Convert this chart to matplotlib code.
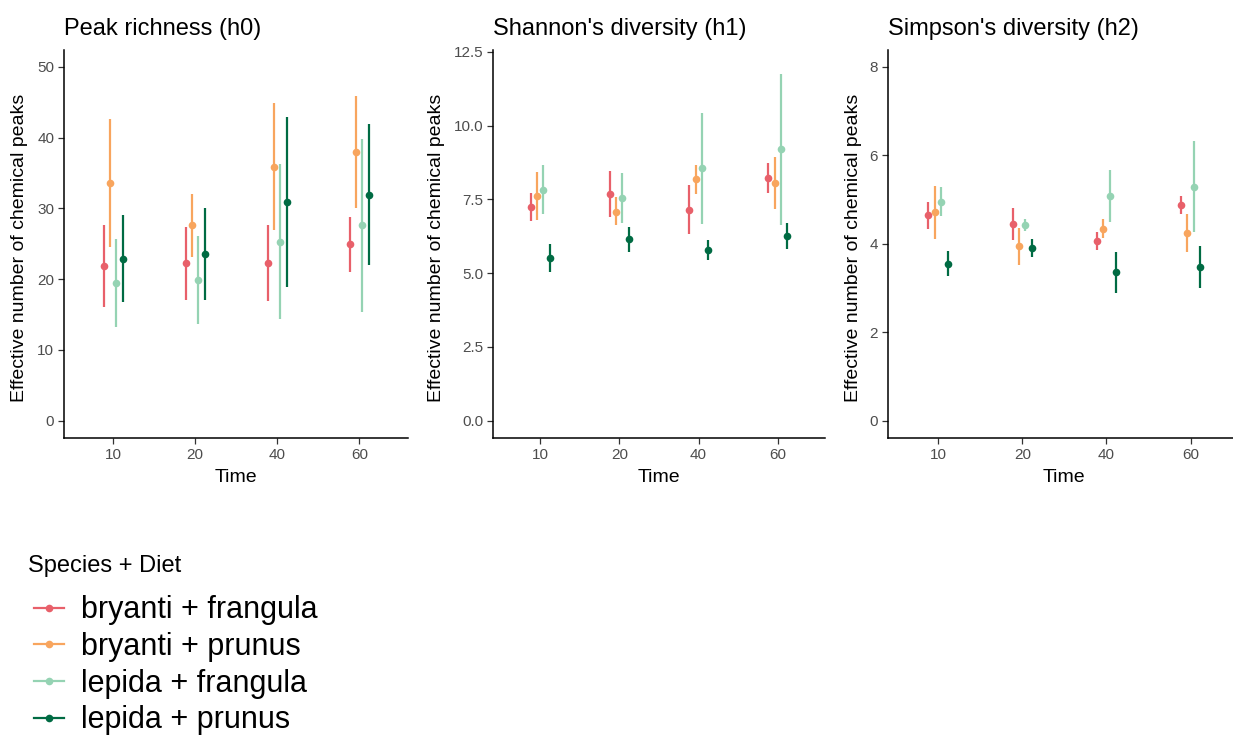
import numpy as np
import matplotlib.pyplot as plt
from matplotlib.lines import Line2D

plt.rcParams['font.family'] = ['Liberation Sans', 'DejaVu Sans']

times = ['10', '20', '40', '60']
groups = ['bryanti + frangula', 'bryanti + prunus', 'lepida + frangula', 'lepida + prunus']
colors = ['#E8606A', '#F8A55E', '#95D3B3', '#006B43']

# h0: peak richness, mean and interval per group (rows) x time (cols)
h0_mean = [[21.9, 22.3, 22.3, 25.0],
           [33.6, 27.6, 35.9, 38.0],
           [19.5, 19.9, 25.2, 27.6],
           [22.9, 23.6, 30.9, 31.9]]
h0_low = [[16.1, 17.1, 16.9, 21.0],
          [24.5, 23.1, 27.0, 30.1],
          [13.3, 13.7, 14.3, 15.3],
          [16.7, 17.1, 18.9, 22.0]]
h0_high = [[27.6, 27.3, 27.6, 28.8],
           [42.6, 32.0, 44.9, 45.8],
           [25.7, 26.1, 36.2, 39.8],
           [29.0, 30.0, 42.9, 41.9]]

# h1: Shannon's diversity
h1_mean = [[7.24, 7.69, 7.15, 8.23],
           [7.62, 7.08, 8.18, 8.04],
           [7.83, 7.55, 8.55, 9.19],
           [5.51, 6.14, 5.77, 6.25]]
h1_low = [[6.75, 6.90, 6.31, 7.71],
          [6.80, 6.62, 7.67, 7.16],
          [6.99, 6.70, 6.67, 6.63],
          [5.05, 5.73, 5.43, 5.81]]
h1_high = [[7.71, 8.47, 7.98, 8.73],
           [8.41, 7.57, 8.68, 8.92],
           [8.68, 8.40, 10.43, 11.75],
           [6.00, 6.55, 6.11, 6.69]]

# h2: Simpson's diversity
h2_mean = [[4.65, 4.45, 4.07, 4.87],
           [4.72, 3.94, 4.34, 4.24],
           [4.94, 4.42, 5.08, 5.29],
           [3.55, 3.90, 3.35, 3.47]]
h2_low = [[4.34, 4.08, 3.86, 4.67],
          [4.11, 3.51, 4.12, 3.81],
          [4.62, 4.29, 4.50, 4.26],
          [3.27, 3.71, 2.89, 3.00]]
h2_high = [[4.94, 4.81, 4.26, 5.08],
           [5.31, 4.36, 4.55, 4.67],
           [5.27, 4.55, 5.66, 6.31],
           [3.83, 4.10, 3.81, 3.95]]

W, H = 1233, 736
fig = plt.figure(figsize=(W / 100, H / 100), dpi=100)

def px_axes(x0, x1, y0, y1):
    return fig.add_axes([x0 / W, 1 - y1 / H, (x1 - x0) / W, (y1 - y0) / H])

panels = [
    dict(title='Peak richness (h0)', x=(64, 408.5), ylim=(-2.49, 52.36),
         yticks=[0, 10, 20, 30, 40, 50], fmt='{:.0f}', ylab_x=20,
         data=(h0_mean, h0_low, h0_high)),
    dict(title="Shannon's diversity (h1)", x=(493, 825), ylim=(-0.596, 12.56),
         yticks=[0, 2.5, 5, 7.5, 10, 12.5], fmt='{:.1f}', ylab_x=437,
         data=(h1_mean, h1_low, h1_high)),
    dict(title="Simpson's diversity (h2)", x=(887.7, 1241), ylim=(-0.398, 8.377),
         yticks=[0, 2, 4, 6, 8], fmt='{:.0f}', ylab_x=853,
         data=(h2_mean, h2_low, h2_high)),
]

top, bottom = 50, 438.3
dodge = np.array([-0.115, -0.038, 0.038, 0.115])
xpos = np.arange(1, len(times) + 1)

for p in panels:
    ax = px_axes(p['x'][0], p['x'][1], top, bottom)
    mean, low, high = p['data']
    for g in range(len(groups)):
        xs = xpos + dodge[g]
        ax.vlines(xs, low[g], high[g], color=colors[g], lw=1.6)
        ax.plot(xs, mean[g], 'o', color=colors[g], ms=5.5, mec='none')
    ax.set_xlim(0.4, 4.6)
    ax.set_ylim(*p['ylim'])
    ax.set_xticks(xpos)
    ax.set_xticklabels(times)
    ax.set_yticks(p['yticks'])
    ax.set_yticklabels([p['fmt'].format(v) for v in p['yticks']])
    ax.tick_params(colors='#333333', labelcolor='#4D4D4D', labelsize=11,
                   length=4, width=0.9, pad=3)
    for s in ['top', 'right']:
        ax.spines[s].set_visible(False)
    for s in ['left', 'bottom']:
        ax.spines[s].set_linewidth(1.1)
    ax.set_xlabel('Time', fontsize=14, labelpad=5)
    fig.text(p['x'][0] / W, 1 - 29 / H, p['title'], fontsize=17,
             ha='left', va='center')
    fig.text(p['ylab_x'] / W, 1 - 248 / H,
             'Effective number of chemical peaks', fontsize=14,
             rotation=90, ha='center', va='center')

# legend below the panels, title drawn on its own for spacing control
fig.text(28 / W, 1 - 566 / H, 'Species + Diet', fontsize=17,
         ha='left', va='center')
handles = [Line2D([0], [0], color=c, lw=1.6, marker='o', ms=5.5, mec='none')
           for c in colors]
leg = fig.legend(handles, groups, loc='upper left',
                 bbox_to_anchor=(19 / W, 1 - 580 / H), frameon=False,
                 fontsize=22, handlelength=0.98, handletextpad=0.55,
                 labelspacing=0.22, borderpad=0)

plt.savefig('out.png', dpi=100)
